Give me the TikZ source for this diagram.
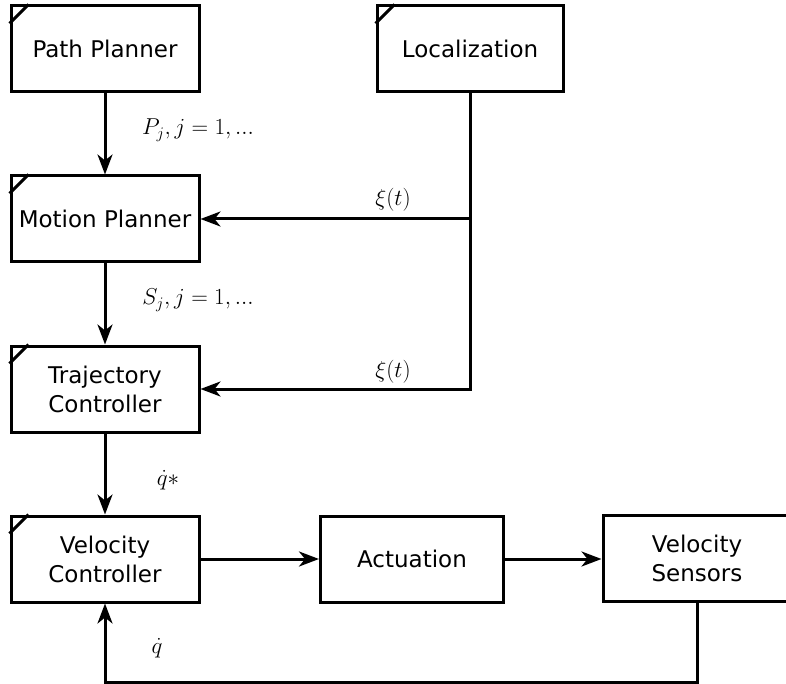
\documentclass[tikz,border=0pt]{standalone}
\usepackage{fix-cm}
\usepackage{fontspec}
\setsansfont{DejaVu Sans}
\usetikzlibrary{arrows.meta}
\begin{document}
\begin{tikzpicture}[x=1pt,y=-1pt,
  blk/.style={draw,line width=3pt,minimum height=86pt,align=center,
    font=\sffamily\fontsize{23}{29}\selectfont,inner sep=0pt},
  conn/.style={line width=3pt,-{Stealth[length=20pt,width=15pt,inset=6pt]}},
  wire/.style={line width=3pt},
  lbl/.style={font=\fontsize{23}{27}\selectfont,inner sep=0pt}]
\useasboundingbox (0,0) rectangle (786,684);
\node[blk,minimum width=188pt] (pp) at (105,49) {Path Planner};
\node[blk,minimum width=186pt] (loc) at (470,49) {Localization};
\node[blk,minimum width=188pt] (mp) at (105,219) {Motion Planner};
\node[blk,minimum width=188pt] (tc) at (105,389) {Trajectory\\Controller};
\node[blk,minimum width=188pt] (vc) at (105,559) {Velocity\\Controller};
\node[blk,minimum width=183pt] (act) at (412,559) {Actuation};
\node[blk,minimum width=188pt] (vs) at (697,558) {Velocity\\Sensors};
\foreach \n in {pp,loc,mp,tc,vc}
  \draw[wire] ([yshift=-19pt]\n.north west) -- ([xshift=19pt]\n.north west);
\draw[conn] (pp) -- (mp);
\draw[conn] (mp) -- (tc);
\draw[conn] (tc) -- (vc);
\draw[conn] (vc.east) -- (act.west);
\draw[conn] (act.east) -- (act.east -| vs.west);
\draw[conn] (loc.south) |- (tc.east);
\draw[conn] (loc.south |- mp.east) -- (mp.east);
\coordinate (fb) at (697,682);
\draw[conn] (vs.south) -- (fb) -| (vc.south);
\node[lbl] (l1) at (198,130) {$P_j, j=1,...$};
\node[lbl] (l2) at (393,200) {$\xi(t)$};
\node[lbl] (l3) at (198,300) {$S_j, j=1,...$};
\node[lbl] (l4) at (393,372) {$\xi(t)$};
\node[lbl] (l5) at (168,480) {$\dot{q}*$};
\node[lbl] (l6) at (157,648) {$\dot{q}$};
\end{tikzpicture}
\end{document}
